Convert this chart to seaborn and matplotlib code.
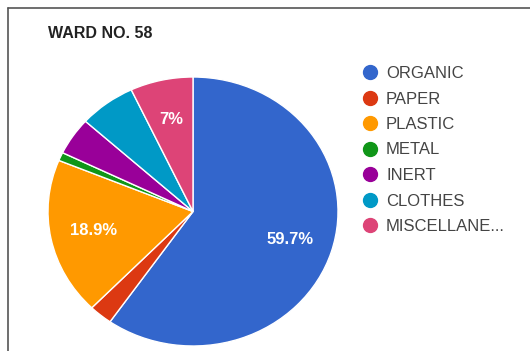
import numpy as np
import pandas as pd
import matplotlib.pyplot as plt
import seaborn as sns
from matplotlib.lines import Line2D

# data
categories = ['ORGANIC', 'PAPER', 'PLASTIC', 'METAL', 'INERT', 'CLOTHES', 'MISCELLANE...']
shares = [59.7, 2.6, 18.9, 1.0, 4.5, 6.3, 7.0]
colors = ['#3366cc', '#dc3912', '#ff9900', '#109618', '#990099', '#0099c6', '#dd4477']

df = pd.DataFrame({'category': categories, 'share': shares})

sns.set_theme(style='white')
plt.rcParams['font.family'] = ['Liberation Sans', 'DejaVu Sans']

fig = plt.figure(figsize=(5.3, 3.51), dpi=100)
fig.patch.set_facecolor('white')

# pie area (slightly stretched horizontally like the screenshot)
ax = fig.add_axes([48 / 530, 5 / 351, 290 / 530, 269 / 351])
palette = sns.color_palette(colors)


def pct_label(p):
    # only the bigger slices get a label, google charts style
    if p < 6.9:
        return ''
    txt = '%.1f' % p
    if txt.endswith('.0'):
        txt = txt[:-2]
    return txt + '%'


wedges, texts, autotexts = ax.pie(
    df['share'], colors=palette, startangle=90, counterclock=False,
    autopct=pct_label, pctdistance=0.7,
    wedgeprops=dict(edgecolor='white', linewidth=1.0),
    textprops=dict(color='white', fontsize=12, fontweight='bold'),
)
for w in wedges:
    w.set_clip_on(False)
ax.set_aspect('auto')
ax.set_xlim(-1, 1)
ax.set_ylim(-1, 1)
ax.axis('off')

# title
fig.text(48 / 530, 1 - 33 / 351, 'WARD NO. 58', fontsize=11.5, fontweight='bold',
         color='#222222', va='center', ha='left')

# legend with round markers
handles = [Line2D([0], [0], marker='o', linestyle='', markersize=10,
                  markerfacecolor=c, markeredgecolor=c) for c in colors]
leg = fig.legend(handles, df['category'], loc='upper left',
                 bbox_to_anchor=(360 / 530, 1 - 66 / 351), frameon=False,
                 fontsize=12, labelspacing=0.63, handletextpad=0.36,
                 handlelength=1.2, borderpad=0, borderaxespad=0)
for t in leg.get_texts():
    t.set_color('#444444')

# screenshot frame on left and top
fig.add_artist(Line2D([8 / 530, 8 / 530], [0, 1 - 8 / 351], transform=fig.transFigure,
                      color='#555555', linewidth=1.2))
fig.add_artist(Line2D([8 / 530, 1], [1 - 8 / 351, 1 - 8 / 351], transform=fig.transFigure,
                      color='#555555', linewidth=1.2))

fig.savefig('out.png', dpi=100, facecolor='white')
